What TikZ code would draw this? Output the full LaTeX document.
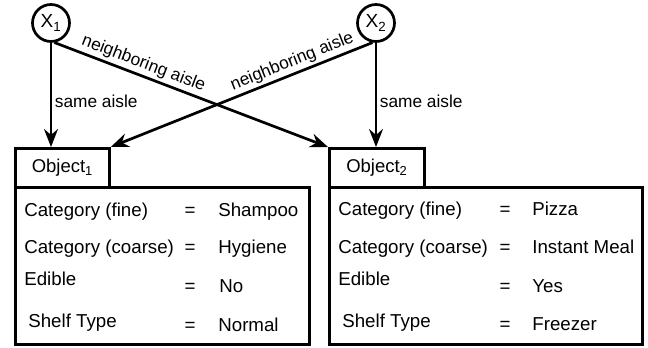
\documentclass[tikz,border=0pt]{standalone}
\usepackage{fontspec}
\setmainfont{Liberation Sans}
\usetikzlibrary{arrows.meta}

\tikzset{
  var/.style={draw, circle, minimum size=37pt, inner sep=0pt, font=\fontsize{19}{22}\selectfont},
  header/.style={draw, rectangle, anchor=north west, minimum width=94pt, minimum height=39pt, font=\fontsize{18.5}{22}\selectfont},
  attrbox/.style={draw, rectangle, anchor=north west, minimum height=157pt},
  attr/.style={anchor=base west, inner sep=0pt, font=\fontsize{18.7}{22}\selectfont},
  eq/.style={anchor=base, inner sep=0pt, font=\fontsize{18.7}{22}\selectfont},
  edgelabel/.style={font=\fontsize{17.3}{20}\selectfont, inner sep=2.5pt},
  arrow/.style={-{Stealth[length=18pt, width=14pt, inset=6pt]}}
}

\begin{document}
\begin{tikzpicture}[x=1pt, y=-1pt, line width=2.7pt]
        \useasboundingbox (0,0) rectangle (648,348);

        % Nodes
        \node (x1) [var] at (51,23) {X\textsubscript{1}};
        \node (x2) [var] at (376,23) {X\textsubscript{2}};
        \node (obj1) [header] at (14,147) {Object\textsubscript{1}};
        \node (obj2) [header, minimum width=95pt] at (328,147) {Object\textsubscript{2}};
        \node (attrs1) [attrbox, minimum width=294pt] at (14,186) {};
        \node (attrs2) [attrbox, minimum width=313pt] at (328,186) {};

        % Attributes of object 1
        \node (cf1) [attr] at (23,216) {Category (fine)};
        \node (cc1) [attr] at (23,253) {Category (coarse)};
        \node (ed1) [attr] at (23,285) {Edible};
        \node (st1) [attr] at (27,327) {Shelf Type};
        \node (cfeq1) [eq] at (190,216) {=};
        \node (cceq1) [eq] at (190,253) {=};
        \node (edeq1) [eq] at (190,292) {=};
        \node (steq1) [eq] at (190,331) {=};
        \node (cfval1) [attr] at (217,216) {Shampoo};
        \node (ccval1) [attr] at (217,253) {Hygiene};
        \node (edval1) [attr] at (218,292) {No};
        \node (stval1) [attr] at (217,331) {Normal};

        % Attributes of object 2
        \node (cf2) [attr] at (337,215) {Category (fine)};
        \node (cc2) [attr] at (337,253) {Category (coarse)};
        \node (ed2) [attr] at (337,285) {Edible};
        \node (st2) [attr] at (341,327) {Shelf Type};
        \node (cfeq2) [eq] at (505,215) {=};
        \node (cceq2) [eq] at (505,253) {=};
        \node (edeq2) [eq] at (505,292) {=};
        \node (steq2) [eq] at (505,330) {=};
        \node (cfval2) [attr] at (531,215) {Pizza};
        \node (ccval2) [attr] at (531,253) {Instant Meal};
        \node (edval2) [attr] at (531,292) {Yes};
        \node (stval2) [attr] at (531,330) {Freezer};

        % Edges
        \draw[arrow] (x1.south) -- node[edgelabel, right, pos=0.56] {same aisle} (x1.south |- obj1.north);
        \draw[arrow] (x2.south) -- node[edgelabel, right, pos=0.56] {same aisle} (x2.south |- obj2.north);
        \draw[arrow] (x1.-80) -- node[edgelabel, sloped, above, pos=0.31] {neighboring aisle} (obj2.north west);
        \draw[arrow] (x2.-100) -- node[edgelabel, sloped, above, pos=0.29] {neighboring aisle} (obj1.north east);
    \end{tikzpicture}
\end{document}
